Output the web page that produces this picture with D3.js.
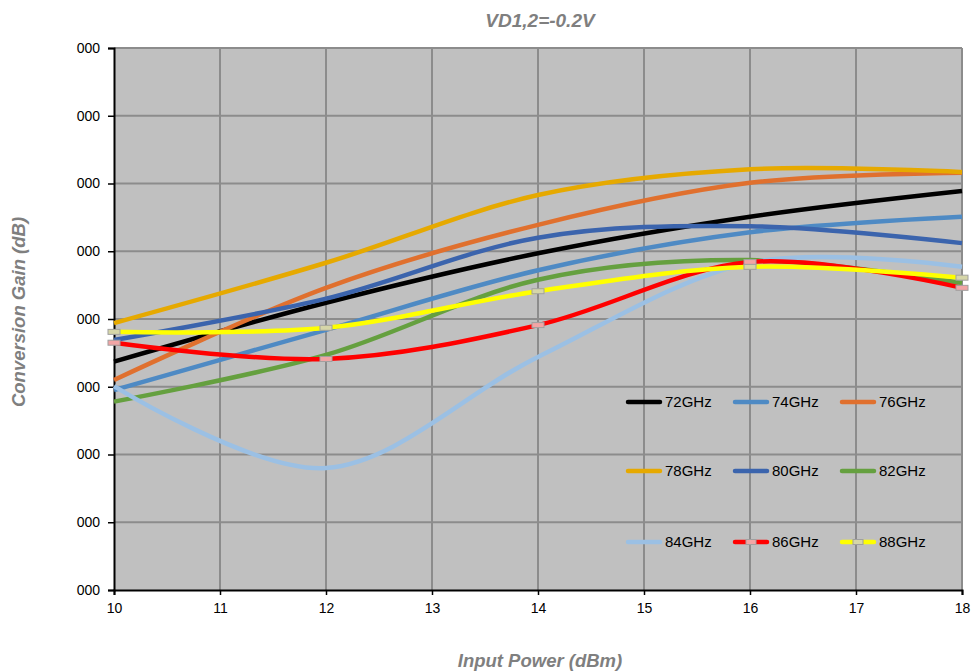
<!DOCTYPE html>
<html>
<head>
<meta charset="utf-8">
<script src="https://cdn.jsdelivr.net/npm/d3@7"></script>
<style>
  body { margin: 0; background: #fff; }
  svg { display: block; font-family: "Liberation Sans", Arial, sans-serif; }
</style>
</head>
<body>
<div id="chart"></div>
<script>
// input power points (dBm)
const inputPower = [10, 12, 14, 16, 18];
const xTicks = [10, 11, 12, 13, 14, 15, 16, 17, 18];
// y axis labels as shown in the chart (units of one grid step)
const yTicks = [0, 1, 2, 3, 4, 5, 6, 7, 8];
const yTickLabels = ['000', '000', '000', '000', '000', '000', '000', '000', '000'];

const seriesNames = ['72GHz', '74GHz', '76GHz', '78GHz', '80GHz', '82GHz', '84GHz', '86GHz', '88GHz'];
const gain72 = [3.37, 4.24, 4.97, 5.51, 5.89];
const gain74 = [2.95, 3.84, 4.72, 5.28, 5.51];
const gain76 = [3.10, 4.46, 5.39, 6.01, 6.16];
const gain78 = [3.94, 4.83, 5.83, 6.21, 6.17];
const gain80 = [3.69, 4.30, 5.20, 5.37, 5.12];
const gain82 = [2.78, 3.47, 4.58, 4.87, 4.53];
const gain84 = [3.01, 1.80, 3.44, 4.83, 4.77];
const gain86 = [3.65, 3.41, 3.91, 4.84, 4.46];
const gain88 = [3.81, 3.87, 4.41, 4.77, 4.61];

const colors = ['#000000', '#4e8ac4', '#e0702e', '#e6a900', '#3b64ad', '#65a03f', '#9bc0e4', '#ff0000', '#ffff00'];
const markerFill = { '86GHz': '#f2a5a5', '88GHz': '#d6d6a8' };

const series = seriesNames.map((name, i) => ({
  name,
  color: colors[i],
  values: [gain72, gain74, gain76, gain78, gain80, gain82, gain84, gain86, gain88][i]
}));

const width = 976, height = 671;
const margin = { top: 48, right: 14, bottom: 81, left: 114 };

const svg = d3.select('#chart').append('svg')
  .attr('width', width)
  .attr('height', height);

const x = d3.scaleLinear().domain([10, 18]).range([margin.left, width - margin.right]);
const y = d3.scaleLinear().domain([0, 8]).range([height - margin.bottom, margin.top]);

// plot background
svg.append('rect')
  .attr('x', x(10)).attr('y', y(8))
  .attr('width', x(18) - x(10)).attr('height', y(0) - y(8))
  .attr('fill', '#c0c0c0');

// gridlines
const grid = svg.append('g').attr('stroke', '#8c8c8c').attr('stroke-width', 2);
grid.selectAll('.gx').data(xTicks.slice(1)).enter().append('line')
  .attr('x1', d => x(d)).attr('x2', d => x(d))
  .attr('y1', y(8)).attr('y2', y(0));
grid.selectAll('.gy').data(yTicks.slice(1)).enter().append('line')
  .attr('x1', x(10)).attr('x2', x(18))
  .attr('y1', d => y(d)).attr('y2', d => y(d));

// axes
const xAxis = svg.append('g')
  .attr('transform', `translate(0,${y(0)})`)
  .call(d3.axisBottom(x).tickValues(xTicks).tickSize(5).tickPadding(8).tickFormat(d3.format('d')));
const yAxis = svg.append('g')
  .attr('transform', `translate(${x(10)},0)`)
  .call(d3.axisLeft(y).tickValues(yTicks).tickSize(6).tickPadding(8).tickFormat((d, i) => yTickLabels[i]));
[xAxis, yAxis].forEach(a => {
  a.select('.domain').attr('stroke', '#000').attr('stroke-width', 2);
  a.selectAll('.tick line').attr('stroke', '#000').attr('stroke-width', 1.5);
  a.selectAll('.tick text').attr('fill', '#000').style('font-size', '14px');
});

// lines
const line = d3.line()
  .x((d, i) => x(inputPower[i]))
  .y(d => y(d))
  .curve(d3.curveCardinal.tension(0));

const lines = svg.append('g');
series.forEach(s => {
  lines.append('path')
    .attr('d', line(s.values))
    .attr('fill', 'none')
    .attr('stroke', s.color)
    .attr('stroke-width', 4.5)
    .attr('stroke-linejoin', 'round');
});

// markers for 86 / 88 GHz
series.filter(s => markerFill[s.name]).forEach(s => {
  svg.append('g').selectAll('rect').data(s.values).enter().append('rect')
    .attr('x', (d, i) => x(inputPower[i]) - 6)
    .attr('y', d => y(d) - 2.5)
    .attr('width', 12).attr('height', 5)
    .attr('fill', markerFill[s.name])
    .attr('stroke', '#a0a0a0')
    .attr('stroke-width', 1);
});

// legend
const legendCols = [628, 735, 842];
const legendRows = [402, 471, 542];
const legend = svg.append('g');
series.forEach((s, i) => {
  const lx = legendCols[i % 3], ly = legendRows[Math.floor(i / 3)];
  legend.append('line')
    .attr('x1', lx).attr('x2', lx + 32)
    .attr('y1', ly).attr('y2', ly)
    .attr('stroke', s.color).attr('stroke-width', 4.5).attr('stroke-linecap', 'round');
  if (markerFill[s.name]) {
    legend.append('rect')
      .attr('x', lx + 11).attr('y', ly - 2.5).attr('width', 10).attr('height', 5)
      .attr('fill', markerFill[s.name]).attr('stroke', '#a0a0a0').attr('stroke-width', 1);
  }
  legend.append('text')
    .attr('x', lx + 37).attr('y', ly + 5)
    .style('font-size', '15px')
    .attr('fill', '#000')
    .text(s.name);
});

// titles
svg.append('text')
  .attr('x', 540).attr('y', 27)
  .attr('text-anchor', 'middle')
  .style('font-size', '19px').style('font-weight', 'bold').style('font-style', 'italic')
  .attr('fill', '#7f7f7f')
  .text('VD1,2=-0.2V');

svg.append('text')
  .attr('x', 540).attr('y', 667)
  .attr('text-anchor', 'middle')
  .style('font-size', '18.5px').style('font-weight', 'bold').style('font-style', 'italic')
  .attr('fill', '#7f7f7f')
  .text('Input Power (dBm)');

svg.append('text')
  .attr('transform', `translate(25,312) rotate(-90)`)
  .attr('text-anchor', 'middle')
  .style('font-size', '18.5px').style('font-weight', 'bold').style('font-style', 'italic')
  .attr('fill', '#7f7f7f')
  .text('Conversion Gain (dB)');
</script>
</body>
</html>
